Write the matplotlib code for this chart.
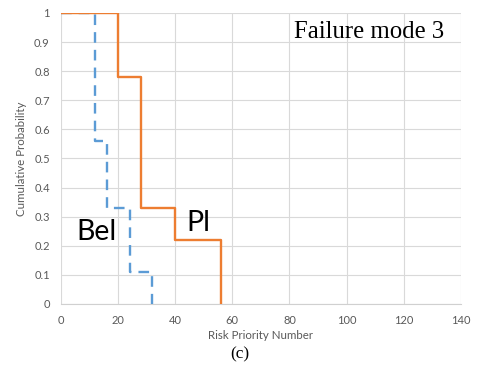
import matplotlib.pyplot as plt

# step points
pl_rpn = [0, 20, 20, 28, 28, 40, 40, 56, 56]
pl_prob = [1, 1, 0.78, 0.78, 0.33, 0.33, 0.22, 0.22, 0]
bel_rpn = [0, 12, 12, 16, 16, 24, 24, 32, 32]
bel_prob = [1, 1, 0.56, 0.56, 0.33, 0.33, 0.11, 0.11, 0]
x_ticks = [0, 20, 40, 60, 80, 100, 120, 140]
y_ticks = [0, 0.1, 0.2, 0.3, 0.4, 0.5, 0.6, 0.7, 0.8, 0.9, 1]

fig = plt.figure(figsize=(4.8, 3.71), dpi=100)
ax = fig.add_axes([0.127, 0.1806, 0.833, 0.7844])

ax.plot(bel_rpn, bel_prob, color="#5B9BD5", lw=1.7, ls=(0, (4.5, 3)), zorder=3)
ax.plot(pl_rpn, pl_prob, color="#ED7D31", lw=1.7, zorder=4)

ax.set_xlim(0, 140)
ax.set_ylim(0, 1)
ax.set_xticks(x_ticks)
ax.set_yticks(y_ticks)
ax.set_yticklabels(["0", "0.1", "0.2", "0.3", "0.4", "0.5", "0.6", "0.7", "0.8", "0.9", "1"])
ax.grid(True, color="#d9d9d9", lw=0.8)
ax.set_axisbelow(True)
for s in ["top", "right", "left"]:
    ax.spines[s].set_visible(False)
ax.spines["bottom"].set_color("#d0d0d0")
ax.tick_params(length=0, labelsize=8, colors="#595959", pad=8)
for lab in ax.get_xticklabels() + ax.get_yticklabels():
    lab.set_family("Lato")

ax.set_xlabel("Risk Priority Number", fontsize=8.3, color="#595959", family="Lato", labelpad=3)
ax.set_ylabel("Cumulative Probability", fontsize=8.3, color="#595959", family="Lato", labelpad=5)

ax.text(5.5, 0.22, "Bel", fontsize=20.5, family="Lato")
ax.text(44, 0.25, "Pl", fontsize=20.5, family="Lato")
ax.text(81.5, 0.915, "Failure mode 3", fontsize=17.8, family="Liberation Serif")
fig.text(0.5, 0.035, "(c)", fontsize=12.5, family="Liberation Serif", ha="center")

fig.savefig("out.png", dpi=100)
